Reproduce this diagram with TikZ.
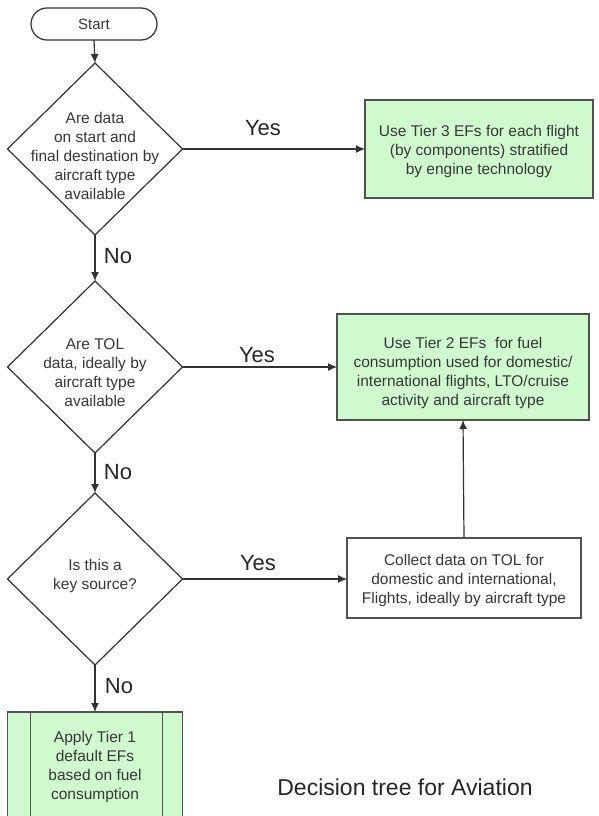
\documentclass[tikz,border=0pt]{standalone}
\usepackage{fontspec}
\setmainfont{Liberation Sans}
\usetikzlibrary{shapes.geometric,arrows.meta}
\definecolor{boxgreen}{RGB}{206,250,206}
\definecolor{linegray}{RGB}{50,50,50}
\definecolor{txtgray}{RGB}{55,55,55}
\tikzset{
  every node/.style={inner sep=0pt, outer sep=0pt},
  conn/.style={draw=linegray, line width=1.2pt},
  arr/.style={conn, -{Latex[length=9pt,width=8pt]}},
  dec/.style={diamond, draw=linegray, line width=1.2pt, minimum width=175pt, minimum height=172pt},
  dtext/.style={align=center, text=txtgray, font=\fontsize{15.5}{19}\selectfont},
  greenbox/.style={rectangle, draw=linegray!85, line width=1.3pt, fill=boxgreen},
  whitebox/.style={rectangle, draw=linegray!85, line width=1.3pt, fill=white},
  lbl/.style={font=\fontsize{22}{26}\selectfont, text=black!85},
  termbox/.style={rectangle, rounded corners=16pt, draw=linegray, line width=1.2pt, minimum width=126pt, minimum height=32pt}
}
\begin{document}
\begin{tikzpicture}[x=1pt,y=-1pt]
\useasboundingbox (0,0) rectangle (598,816);
\fill[white] (0,0) rectangle (598,816);
% start
\node[termbox] (start) at (94,24) {};
\node[dtext, font=\fontsize{15}{18}\selectfont] (starttxt) at (94,24) {Start};
% diamonds
\node[dec] (d1) at (95,149) {};
\node[dtext] (d1t) at (95,156) {Are data\\on start and\\final destination by\\aircraft type\\available};
\node[dec] (d2) at (95,367) {};
\node[dtext] (d2t) at (95,373) {Are TOL\\data, ideally by\\aircraft type\\available};
\node[dec] (d3) at (95,579) {};
\node[dtext] (d3t) at (95,576) {Is this a\\key source?};
% boxes
\node[greenbox, minimum width=228pt, minimum height=98pt] (b1) at (479,149) {};
\node[dtext] (b1t) at (479,151) {Use Tier 3 EFs for each flight\\(by components) stratified\\by engine technology};
\node[greenbox, minimum width=252pt, minimum height=106pt] (b2) at (463,367) {};
\node[dtext] (b2t) at (463,373) {Use Tier 2 EFs\ \ for fuel\\consumption used for domestic/\\international flights, LTO/cruise\\activity and aircraft type};
\node[whitebox, minimum width=234pt, minimum height=80pt] (b3) at (464,578) {};
\node[dtext] (b3t) at (464,580) {Collect data on TOL for\\domestic and international,\\Flights, ideally by aircraft type};
% tier 1 box (runs off the bottom)
\node[greenbox, minimum width=175pt, minimum height=120pt, anchor=north] (b4) at (95,712) {};
\draw[draw=linegray!85, line width=1.3pt] (b4.north west) ++(23,0) coordinate (b4l) -- (b4l |- b4.south);
\draw[draw=linegray!85, line width=1.3pt] (b4.north east) ++(-20,0) coordinate (b4r) -- (b4r |- b4.south);
\node[dtext] (b4t) at (95,767) {Apply Tier 1\\default EFs\\based on fuel\\consumption};
% connectors
\draw[arr] (start.south) -- (d1.north);
\draw[arr] (d1.east) -- (b1.west);
\draw[arr] (d1.south) -- (d2.north);
\draw[arr] (d2.east) -- (d2.east -| b2.west);
\draw[arr] (d2.south) -- (d3.north);
\draw[arr] (d3.east) -- (d3.east -| b3.west);
\draw[arr] (b3.north) -- (b2.south);
\draw[arr] (d3.south) -- (b4.north);
% labels
\node[lbl] (y1) at (263,128) {Yes};
\node[lbl] (y2) at (257,355) {Yes};
\node[lbl] (y3) at (258,563) {Yes};
\node[lbl] (n1) at (118,256) {No};
\node[lbl] (n2) at (118,472) {No};
\node[lbl] (n3) at (119,686) {No};
\node[font=\fontsize{23}{27}\selectfont, text=black!85] (cap) at (405,787) {Decision tree for Aviation};
\end{tikzpicture}
\end{document}
